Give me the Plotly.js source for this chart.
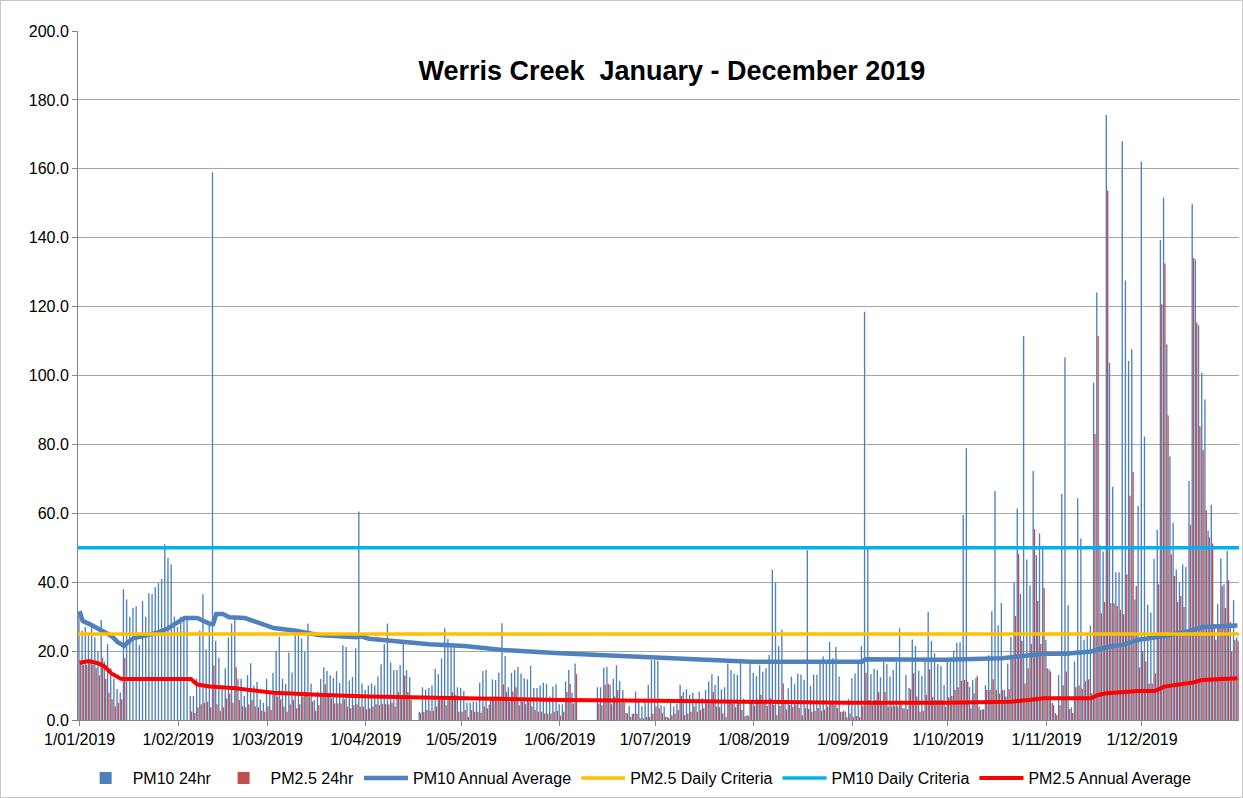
<!DOCTYPE html>
<html><head><meta charset="utf-8">
<script src="https://cdn.plot.ly/plotly-3.0.1.min.js"></script>
<style>
body{margin:0;background:#fff}
#wrap{position:relative;width:1243px;height:798px}
#chart{width:1243px;height:798px}
#frame{position:absolute;left:0;top:0;width:1241px;height:796px;border:1px solid #c8c8c8;pointer-events:none}
</style>
</head><body>
<div id="wrap"><div id="chart"></div><div id="frame"></div></div>
<script>
// PM10 24hr values by month (µg/m³), null = no data
const pm10Jan = [31.5,26,27,25,28,24,20,29,17,22,15,12,9,8,38,35,30,32.6,33,21.8,34.6,30,36.8,36.6,38.5,39.7,41,51,47,45.2,30];
const pm10Feb = [27,30,29,30,7,7,12,26,36.5,20.5,28,159,23,18,10,15,24,28,30,12,12,7,13,16.5,10,11,6,5];
const pm10Mar = [12,8.2,13.7,20,24.2,11.9,10.5,19.6,13.8,24.7,25.9,23.7,19.8,28,10.6,5.8,8.2,11.9,15.3,14.2,13,12.2,14.2,10.8,21.7,21.2,11.5,12.5,20.8,60.5,10.6];
const pm10Apr = [8.8,10,10.6,10,12.6,16.2,22,28,16.7,14.5,14.5,16,22.2,14.5,12.4,null,null,2.4,9.5,8.8,9.3,10,14.9,13.3,17.9,26.6,23.5,21.1,21.1,9.5];
const pm10May = [9.3,8.4,5,5,5.3,5.3,10.8,14.2,14.5,4.5,11.8,11.6,13.7,28.1,18.6,9.5,13.7,14.5,15.4,13.5,12.1,11.8,15.7,9.3,9.3,10,10.8,10.5,6.8,9.7,10.4];
const pm10Jun = [4.6,4.6,11.2,14.5,7.9,16.4,null,null,null,null,null,null,9.5,9.5,15.2,15.4,10.2,11.9,15.9,11.4,8.7,2.1,4.1,1.8,8.3,5.3,4,5.5,10.2,17.4];
const pm10Jul = [17.4,17.2,4.3,3.9,0.9,5,3.9,4.8,10.2,8.1,8.9,7.3,7.9,6,8.2,6.3,8.7,11.2,13.3,10.2,12.8,8.9,9.5,16.4,14.5,13.5,13.1,16.6,6.2,1.4,16.2];
const pm10Aug = [13.7,12.8,15.9,14,15,18.9,43.7,39.9,21.5,26.3,4.8,9.2,12.6,10.4,13.5,13.1,11.6,49.3,9.9,13.1,13.1,16.5,18.4,16.5,22.7,17.9,21.2,12.6,2.4,2.4,6];
const pm10Sep = [12.1,13.5,16.4,21.5,118.5,50,13.3,14.9,14.5,12.4,16.9,16.2,12.6,14.5,16.9,26.6,3.4,13.1,9.3,23.4,21.5,14.3,12.8,16.9,31.4,23,19.3,16.2,15.7,10.2];
const pm10Oct = [16.8,16.8,20.2,22.4,22.6,59.5,78.9,9.6,11.6,12.1,3.9,3.1,10.1,18.8,31.6,66.5,27.5,34,8.7,16.4,24.1,39.8,61.4,36.6,111.5,46.6,39.1,72.3,47.9,54.2,50.6];
const pm10Nov = [23.3,14.7,4.9,2,13,65.6,105.3,33.3,3.7,17,64.4,52.7,23.3,24.5,27.4,97.9,124.1,50.7,48.9,175.6,103.7,67.7,42.9,42.9,168,127.6,104.2,107.6,35,62.1];
const pm10Dec = [162.1,82.3,33.5,31.2,46.7,55.2,139.3,151.7,109.1,76.5,57.3,43.7,40,45.2,44.4,69.4,149.8,133.7,114.6,100.7,93,55,62.5,27.9,33.7,46.9,39.4,49.1,28.5,34.8,24];

// PM2.5 24hr values by month
const pm25Jan = [17,16,16,17,16,15,13,18,12,8,6,4,5,6,18,null,null,null,null,null,null,null,null,null,null,null,null,null,null,null,null];
const pm25Feb = [null,null,null,null,2.5,2,3.7,4.6,5,5.3,3.7,15.8,4.6,2.7,3.7,6.3,7.7,5,15.3,5.8,4,3.7,4.6,5.8,4,3.7,2.7,2.5];
const pm25Mar = [4,2.9,7.3,6.8,6,3.9,2.4,4.6,5.8,3.4,4.6,6.8,8.1,6.8,5.3,2.7,4.3,6.8,10.4,7,6.3,4.8,4.8,4.8,6,3.9,3.4,4.3,4.6,3.9,3.9];
const pm25Apr = [3.1,3.4,3.9,4.6,4.3,4.6,4.6,4.6,5,3.9,8.1,6.8,12.9,8.1,5.8,null,null,2.1,2.4,2.9,2.7,2.7,3.9,5.8,5.8,4.3,6,8.1,7.3,2.4];
const pm25May = [2.4,2.9,0.9,2.9,2.4,2.4,2.1,3.9,3.4,6.6,6.8,6.8,6.8,10.4,8.1,5.3,8.3,9.5,4.3,5.3,4.6,5.3,3.9,2.9,2.5,2.4,1.9,1.8,1.9,2.4,2.7];
const pm25Jun = [1.3,2.4,8.1,10.5,4.8,13.3,null,null,null,null,null,null,4.8,4.3,10.2,10.5,4.6,6.8,8.7,5,5,1.9,0.9,1.9,1.8,0.5,0.5,0.9,0.9,1.9];
const pm25Jul = [3.9,3.4,1.9,0.9,0.6,1.4,1.9,2.9,7,1.4,1.9,2.4,3.9,2.4,2.9,3.4,4.8,4.8,8.1,3.9,3.7,1.9,0.8,5.3,4.8,3.7,5.3,2.9,1.1,1.2,5.8];
const pm25Aug = [4.1,6,7.3,4.9,4.1,6.3,4.4,1.4,4.1,10.6,3,4.4,3.8,4.4,3.5,1.4,3.5,3.2,2.4,2.7,3.5,2.7,3,3.9,4.7,4.4,3.5,2.4,2.7,0.9,1.9];
const pm25Sep = [0.9,1.2,0.9,4.1,13.7,5.8,5.3,5.8,8.1,5.3,8.1,3.9,3.9,4.1,3.9,5,3.4,3.1,8.9,13.5,6.8,2.4,2.7,7.3,14.7,6.6,5.8,5.8,5.8,3.9];
const pm25Oct = [6.6,7,8.7,9.5,11.4,11.6,11.1,3.4,7.7,12.8,2.9,3.1,8.7,8.7,11.8,8.7,7.7,8.7,6.8,8.9,18.4,30.2,48.2,23,10.6,15,22.1,55.4,34.6,22.1,38.3];
const pm25Nov = [15,14.1,4.3,1.4,4.3,10.1,14.1,3.2,2,9.5,10,9,11.2,11.8,7.8,83,111.5,31,34.3,153.7,33.9,33.9,33.1,32,30.7,42.3,65.1,72,38.9,15.3];
const pm25Dec = [20,17,10.6,10.6,13.5,39.4,120.7,132.5,88.4,48.1,41.8,34.3,36,32.8,25.6,56.7,134.1,115.3,85.3,78.4,60.8,53,51.2,23.3,26.8,38.9,32.5,40.6,19.9,23.3,23];

// Annual (running) averages: [day of year (0 = 1 Jan), value]
const pm10AvgDays = [0,1,3,7,10,12,14,15,17,20,25,28,31,33,37,39,41,42,43,45,47,52,56,61,68,75,87,88,91,100,110,121,133,151,165,181,195,211,230,246,247,272,290,300,303,310,318,323,328,333,340,348,353,364];
const pm10AvgVals = [31.6,28.7,27.9,26.0,24.4,22.6,21.5,22.4,23.8,24.4,25.5,26.7,28.4,29.6,29.6,28.8,27.9,27.9,30.8,30.8,29.8,29.6,28.3,26.7,25.9,24.7,24.0,24.4,23.6,22.7,22.0,21.5,20.3,19.4,18.8,18.0,17.5,16.9,16.9,16.9,17.6,17.5,17.9,18.8,19.2,19.2,19.9,21.2,21.8,23.3,24.2,25.6,27.0,27.4];
const pm25AvgDays = [0,3,6,8,10,13,15,35,37,41,49,55,61,75,91,121,151,181,211,241,272,293,299,303,318,320,323,333,338,341,350,353,364];
const pm25AvgVals = [16.6,17.1,16.4,15.4,13.5,12.0,11.9,11.9,10.3,9.7,9.2,8.6,7.9,7.3,6.8,6.3,5.8,5.6,5.2,5.0,5.0,5.3,5.9,6.3,6.3,7.2,7.8,8.4,8.4,9.7,10.9,11.6,12.1];

// Criteria
const critDates = ['2018-12-31 12:00','2019-12-31 12:00'];
const pm25Criteria = [25,25];
const pm10Criteria = [50,50];

// Axis ticks
const tickDates = ['2019-01-01','2019-02-01','2019-03-01','2019-04-01','2019-05-01','2019-06-01','2019-07-01','2019-08-01','2019-09-01','2019-10-01','2019-11-01','2019-12-01'];
const tickLabels = ['1/01/2019','1/02/2019','1/03/2019','1/04/2019','1/05/2019','1/06/2019','1/07/2019','1/08/2019','1/09/2019','1/10/2019','1/11/2019','1/12/2019'];

const pm10 = [].concat(pm10Jan,pm10Feb,pm10Mar,pm10Apr,pm10May,pm10Jun,pm10Jul,pm10Aug,pm10Sep,pm10Oct,pm10Nov,pm10Dec);
const pm25 = [].concat(pm25Jan,pm25Feb,pm25Mar,pm25Apr,pm25May,pm25Jun,pm25Jul,pm25Aug,pm25Sep,pm25Oct,pm25Nov,pm25Dec);

function dayToDate(d){
  const t = new Date(Date.UTC(2019,0,1+d));
  return t.toISOString().slice(0,10);
}
const dates = pm10.map((_,i)=>dayToDate(i));

const traces = [
  {type:'bar', name:'PM10 24hr', x:dates, y:pm10, marker:{color:'#4F81BD'}},
  {type:'bar', name:'PM2.5 24hr', x:dates, y:pm25, marker:{color:'#C0504D'}},
  {type:'scatter', mode:'lines', name:'PM10 Annual Average', x:pm10AvgDays.map(dayToDate), y:pm10AvgVals, line:{color:'#4F81BD', width:4.5}},
  {type:'scatter', mode:'lines', name:'PM2.5 Daily Criteria', x:critDates, y:pm25Criteria, line:{color:'#FFC000', width:3.5}},
  {type:'scatter', mode:'lines', name:'PM10 Daily Criteria', x:critDates, y:pm10Criteria, line:{color:'#00B0F0', width:3.5}},
  {type:'scatter', mode:'lines', name:'PM2.5 Annual Average', x:pm25AvgDays.map(dayToDate), y:pm25AvgVals, line:{color:'#FF0000', width:4}}
];

const layout = {
  width:1243, height:798,
  margin:{l:78, r:4, t:31, b:78},
  paper_bgcolor:'#ffffff', plot_bgcolor:'#ffffff',
  font:{family:'Liberation Sans, Arial, sans-serif', size:16, color:'#000'},
  title:{text:'<b>Werris Creek  January - December 2019</b>', font:{size:27, color:'#000'}, xref:'container', yref:'container', x:0.5405, y:0.912, xanchor:'center', yanchor:'middle'},
  barmode:'group', bargap:0.15, bargroupgap:0,
  showlegend:true,
  legend:{orientation:'h', xref:'container', yref:'container', x:0.513, y:0.025, xanchor:'center', yanchor:'middle', font:{size:16}, traceorder:'normal', itemwidth:44},
  xaxis:{type:'date', range:['2018-12-31 12:00','2019-12-31 12:00'], tickmode:'array', tickvals:tickDates, ticktext:tickLabels,
         showgrid:false, showline:true, linecolor:'#868686', linewidth:1, ticks:'outside', ticklen:5, tickcolor:'#868686', tickfont:{size:16}, zeroline:false},
  yaxis:{range:[0,200], dtick:20, tick0:0, tickformat:'.1f', showgrid:true, gridcolor:'#a6a6a6', gridwidth:1,
         showline:true, linecolor:'#868686', linewidth:1, ticks:'outside', ticklen:5, tickcolor:'#868686', tickfont:{size:16}, zeroline:false},
  hovermode:false
};

Plotly.newPlot('chart', traces, layout, {staticPlot:true, displayModeBar:false});
</script>
</body></html>
